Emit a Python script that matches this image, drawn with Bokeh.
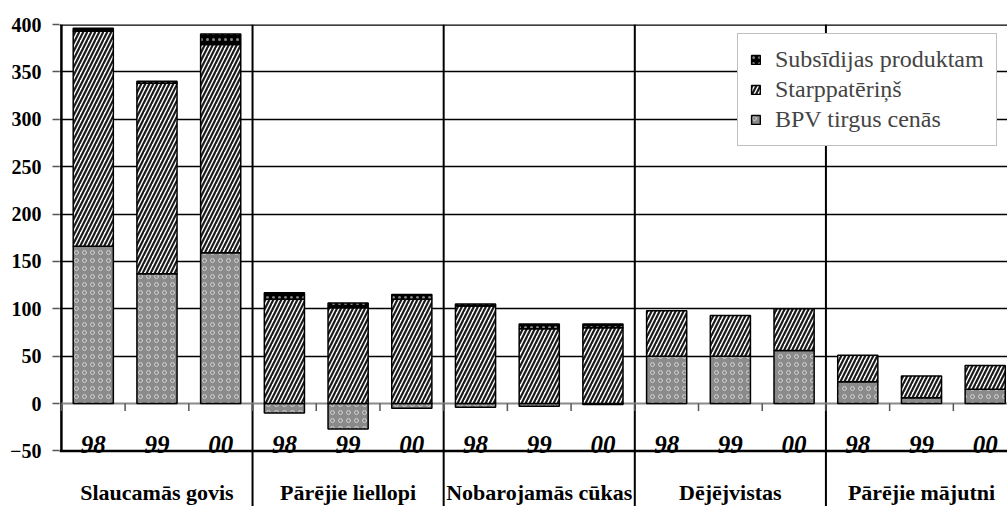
from bokeh.plotting import figure
from bokeh.models import Range1d, FixedTicker, Legend, LegendItem, ColumnDataSource
from bokeh.core.properties import value
from bokeh.embed import file_html
from bokeh.resources import INLINE

# ---- data ----
groups = ["Slaucamās govis", "Pārējie liellopi", "Nobarojamās cūkas", "Dējējvistas", "Pārējie mājutni"]
years = ["98", "99", "00"]
bpv = [166, 137, 159, -10, -27, -5, -4, -3, -1, 50, 50, 56, 23, 6, 15]
starp = [227, 201, 220, 110, 101, 110, 103, 79, 80, 48, 43, 44, 28, 23, 25]
subs = [3, 2, 11, 7, 5, 5, 2, 5, 4, 0, 0, 0, 0, 0, 0]
y_ticks = [-50, 0, 50, 100, 150, 200, 250, 300, 350, 400]

FONT = "Liberation Serif"
n_years = len(years)
n_slots = len(groups) * n_years

xs = [g * n_years + k + 0.5 for g in range(len(groups)) for k in range(n_years)]
year_lab = [years[k] for g in range(len(groups)) for k in range(n_years)]
base = [max(b, 0) for b in bpv]
starp_top = [b + s for b, s in zip(base, starp)]
subs_top = [t + s for t, s in zip(starp_top, subs)]

src_b = ColumnDataSource(dict(x=xs, top=bpv, bottom=[0] * n_slots))
src_s = ColumnDataSource(dict(x=xs, top=starp_top, bottom=base))
keep = [i for i in range(n_slots) if subs[i] > 0]
src_u = ColumnDataSource(dict(x=[xs[i] for i in keep], top=[subs_top[i] for i in keep],
                              bottom=[starp_top[i] for i in keep]))

x_start, x_end = -0.03, 14.85
y_start, y_end = -108.7, 400
p = figure(width=1007, height=506, output_backend="svg", toolbar_location=None,
           x_range=Range1d(x_start, x_end), y_range=Range1d(y_start, y_end),
           x_axis_location=None, min_border_top=24, min_border_bottom=0,
           min_border_right=0, min_border_left=59)
p.outline_line_color = None
p.xgrid.visible = False
p.ygrid.ticker = FixedTicker(ticks=[50, 100, 150, 200, 250, 300, 350])
p.ygrid.grid_line_color = "black"
p.ygrid.grid_line_width = 1.3

ax = p.yaxis[0]
ax.ticker = FixedTicker(ticks=y_ticks)
ax.axis_line_color = None
ax.major_tick_out = 7
ax.major_tick_in = 0
ax.major_tick_line_color = "#555555"
ax.major_tick_line_width = 1.5
ax.minor_tick_line_color = None
ax.major_label_standoff = 11
ax.major_label_text_font = FONT
ax.major_label_text_font_style = "bold"
ax.major_label_text_font_size = "20px"
ax.major_label_text_color = "black"

# frame lines
p.segment(x0=[x_start], y0=[400], x1=[x_end], y1=[400], line_color="black", line_width=2.5)
p.segment(x0=[x_start], y0=[-50], x1=[x_end], y1=[-50], line_color="black", line_width=2.5)
p.segment(x0=[0], y0=[-50], x1=[0], y1=[400], line_color="black", line_width=2.5)
seps = [g * n_years for g in range(1, len(groups))]
p.segment(x0=seps, y0=[y_start] * len(seps), x1=seps, y1=[400] * len(seps), line_color="black", line_width=2)
# zero line and ticks
p.segment(x0=[0], y0=[0], x1=[x_end], y1=[0], line_color="#8a8a8a", line_width=2)
bounds = list(range(0, n_slots))
p.segment(x0=bounds, y0=[0] * len(bounds), x1=bounds, y1=[-8] * len(bounds), line_color="#555555", line_width=1.5)

w = 0.63
r_b = p.vbar(x="x", top="top", bottom="bottom", width=w, source=src_b,
             fill_color="#8a8a8a", hatch_pattern="o", hatch_color="#d0d0d0", hatch_scale=8,
             hatch_weight=1, line_color="black", line_width=1.5)
r_s = p.vbar(x="x", top="top", bottom="bottom", width=w, source=src_s,
             fill_color="white", hatch_pattern="/", hatch_color="#1a1a1a", hatch_scale=8,
             hatch_weight=2.2, line_color="black", line_width=1.5)
r_u = p.vbar(x="x", top="top", bottom="bottom", width=w, source=src_u,
             fill_color="black", hatch_pattern=".", hatch_color="#888888", hatch_scale=6,
             hatch_weight=1, line_color="black", line_width=1.5)

# year labels
p.text(x=xs, y=[-43] * n_slots, text=year_lab, text_font=value(FONT), text_font_style="bold italic",
       text_font_size="25px", text_align="center", text_baseline="alphabetic", text_color="black")
# group labels
gx = [g * n_years + n_years / 2 for g in range(len(groups))]
p.text(x=gx, y=[-94] * len(groups), text=groups, text_font=value(FONT), text_font_style="bold",
       text_font_size="22px", text_align="center", text_baseline="alphabetic", text_color="black")

legend = Legend(items=[LegendItem(label="Subsīdijas produktam", renderers=[r_u]),
                       LegendItem(label="Starppatēriņš", renderers=[r_s]),
                       LegendItem(label="BPV tirgus cenās", renderers=[r_b])],
                location=(678, 360))
legend.label_text_font = FONT
legend.label_text_font_size = "24px"
legend.glyph_width = 11
legend.glyph_height = 11
legend.label_standoff = 14
legend.padding = 12
legend.spacing = 3
legend.margin = 0
legend.border_line_color = "#808080"
legend.border_line_width = 1
legend.background_fill_color = "white"
legend.background_fill_alpha = 1
p.add_layout(legend)

open("out.html", "w").write(file_html(p, INLINE))
